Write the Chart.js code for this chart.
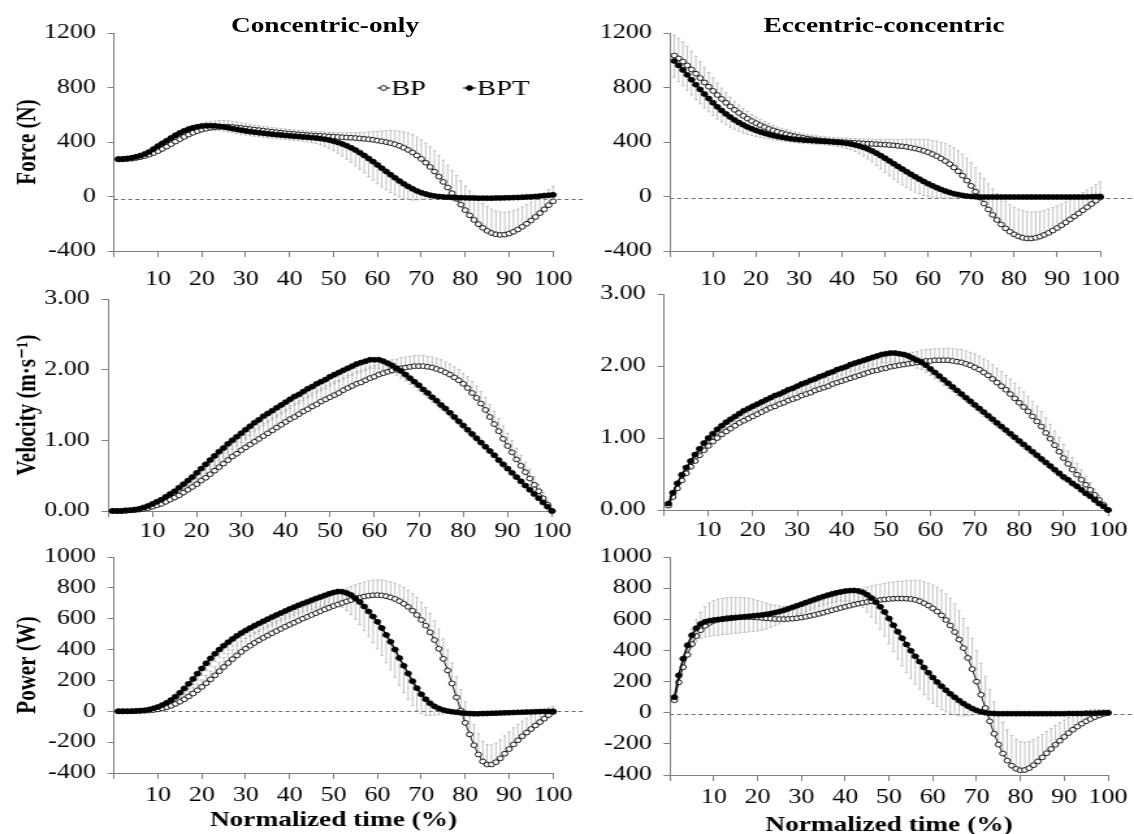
<!DOCTYPE html>
<html>
<head>
<meta charset="utf-8">
<title>Force, velocity and power over normalized time</title>
<script src="https://cdn.jsdelivr.net/npm/chart.js@4.4.1/dist/chart.umd.min.js"></script>
<style>
  html, body { margin: 0; padding: 0; background: #fff; overflow: hidden; }
  #figure { position: absolute; left: 0; top: 0; width: 872px; height: 834px;
            transform-origin: 0 0; }
  #figure canvas { position: absolute; left: 0; top: 0; }
  .ptitle { position: absolute; top: 15px; line-height: 21px; white-space: nowrap;
            font-family: "Liberation Serif", "Times New Roman", serif; font-weight: bold;
            font-size: 21px; color: #000; transform: translateX(-50%); }
</style>
</head>
<body>
<div id="figure">
  <div class="ptitle" id="titleCO">Concentric-only</div>
  <div class="ptitle" id="titleEC">Eccentric-concentric</div>
</div>
<script>
// ---- normalized time (%) ----
const timePct = [1,2,3,4,5,6,7,8,9,10,11,12,13,14,15,16,17,18,19,20,
  21,22,23,24,25,26,27,28,29,30,31,32,33,34,35,36,37,38,39,40,
  41,42,43,44,45,46,47,48,49,50,51,52,53,54,55,56,57,58,59,60,
  61,62,63,64,65,66,67,68,69,70,71,72,73,74,75,76,77,78,79,80,
  81,82,83,84,85,86,87,88,89,90,91,92,93,94,95,96,97,98,99,100];
const xTicks = [10, 20, 30, 40, 50, 60, 70, 80, 90, 100];
const seriesNames = ['BPT', 'BP'];

// ---- Force (N), concentric-only ----
const coForceBPT = [275,276,279,284,291,300,312,327,348,370,
  390,410,430,450,467,482,495,505,512,517,
  519,520,519,515,510,504,498,492,486,481,
  476,472,468,464,460,457,454,451,448,445,
  442,440,437,435,432,429,425,420,414,406,
  397,386,373,358,341,322,301,279,256,232,
  208,184,160,137,114,93,74,56,41,28,
  18,10,4,0,-3,-5,-7,-8,-9,-10,
  -11,-11,-12,-12,-12,-12,-11,-11,-10,-9,
  -8,-7,-5,-4,-2,0,3,6,9,12];
const coForceBP = [272,273,275,278,283,289,297,307,319,333,
  349,366,384,403,421,438,454,468,480,490,
  498,504,508,511,512,512,510,507,503,499,
  495,491,487,483,479,475,472,468,465,462,
  459,456,454,451,449,447,445,443,441,439,
  437,435,433,431,429,426,423,420,416,410,
  405,399,392,383,372,358,342,323,301,276,
  248,217,183,146,107,66,24,-18,-60,-100,
  -138,-172,-203,-230,-252,-268,-278,-282,-280,-272,
  -259,-242,-222,-200,-176,-150,-122,-94,-64,-35];
const coForceBPTsd = [20,20,22,24,26,28,30,32,34,36,
  38,40,40,40,40,40,40,38,36,35,
  34,33,32,32,31,31,30,30,30,30,
  30,30,30,30,30,30,30,30,30,30,
  30,31,32,34,37,41,46,52,60,70,
  80,90,100,108,115,122,128,133,136,138,
  138,136,132,126,118,108,96,82,66,50,
  36,26,18,12,10,10,10,10,10,10,
  10,10,10,10,10,10,10,10,10,10,
  10,10,10,10,10,10,10,10,10,10];
const coForceBPsd = [20,20,22,24,26,28,30,33,36,40,
  42,44,45,46,47,48,48,48,48,48,
  48,48,47,46,45,44,42,40,38,36,
  35,34,33,32,32,31,31,30,30,30,
  30,30,30,30,30,30,30,30,30,31,
  32,33,35,37,40,44,48,54,60,68,
  76,84,92,100,108,116,124,130,136,140,
  144,148,152,156,160,164,168,172,175,178,
  180,180,180,180,178,175,172,168,164,160,
  155,150,145,140,135,130,125,120,115,110];

// ---- Force (N), eccentric-concentric ----
const ecForceBPT = [995,962,928,893,857,821,786,752,719,688,
  658,631,606,583,562,543,526,511,497,485,
  474,464,455,447,440,434,429,424,420,417,
  414,412,410,408,406,404,402,400,397,394,
  390,385,378,370,360,348,334,318,300,281,
  261,241,221,201,182,163,145,127,110,94,
  79,65,52,40,30,21,14,8,3,0,
  -2,-3,-4,-4,-4,-4,-4,-4,-4,-4,
  -4,-4,-4,-4,-4,-4,-4,-4,-4,-4,
  -4,-4,-4,-4,-4,-4,-3,-2,-1,0];
const ecForceBP = [1035,1013,990,962,932,901,869,837,806,775,
  745,716,688,661,636,613,592,572,554,538,
  523,509,496,485,475,466,457,449,442,436,
  430,425,420,416,412,409,406,404,402,400,
  398,396,394,392,390,388,386,384,382,380,
  378,375,372,368,364,358,352,344,335,324,
  311,296,279,260,238,213,185,153,117,78,
  36,-8,-52,-95,-135,-172,-205,-234,-258,-278,
  -293,-303,-308,-308,-303,-294,-282,-267,-250,-231,
  -211,-190,-168,-146,-124,-101,-78,-55,-31,-8];
const ecForceBPTsd = [120,118,116,114,112,110,106,102,98,94,
  90,85,80,75,70,65,60,55,50,45,
  40,36,32,30,28,26,25,25,25,25,
  25,25,25,25,25,25,26,28,30,33,
  37,42,48,55,63,72,81,90,98,105,
  110,114,116,117,117,116,113,108,102,94,
  85,75,64,53,42,32,23,16,12,10,
  10,10,10,10,10,10,10,10,10,10,
  10,10,10,10,10,10,10,10,10,10,
  10,10,10,10,10,10,10,10,10,10];
const ecForceBPsd = [150,148,145,140,135,128,120,112,104,96,
  88,80,74,68,63,59,55,52,49,46,
  44,42,40,38,36,35,34,33,32,31,
  30,30,30,30,30,30,30,30,30,30,
  30,30,31,32,33,34,35,36,38,40,
  42,45,48,52,56,62,68,75,83,92,
  101,110,119,128,136,144,151,158,164,170,
  175,180,184,188,191,194,196,198,199,200,
  200,199,197,194,190,185,180,174,168,162,
  156,150,145,140,135,130,126,122,118,115];

// ---- Velocity (m/s), concentric-only ----
const coVelBPT = [0.00,0.00,0.00,0.01,0.01,0.02,0.03,0.05,0.07,0.10,
  0.13,0.16,0.20,0.24,0.28,0.33,0.38,0.43,0.48,0.54,
  0.60,0.66,0.72,0.78,0.84,0.89,0.95,1.00,1.05,1.10,
  1.15,1.20,1.25,1.29,1.34,1.38,1.42,1.46,1.50,1.54,
  1.58,1.62,1.65,1.69,1.73,1.76,1.80,1.83,1.86,1.90,
  1.93,1.96,1.99,2.02,2.05,2.08,2.10,2.12,2.14,2.14,
  2.14,2.12,2.09,2.06,2.02,1.98,1.93,1.88,1.83,1.78,
  1.72,1.67,1.61,1.56,1.50,1.45,1.39,1.33,1.27,1.21,
  1.15,1.09,1.03,0.97,0.91,0.85,0.79,0.72,0.66,0.60,
  0.54,0.48,0.42,0.36,0.30,0.24,0.18,0.12,0.06,0.00];
const coVelBP = [0.00,0.00,0.00,0.00,0.01,0.01,0.02,0.03,0.04,0.06,
  0.08,0.10,0.13,0.16,0.19,0.22,0.26,0.30,0.34,0.38,
  0.43,0.47,0.52,0.57,0.62,0.67,0.72,0.77,0.81,0.86,
  0.90,0.94,0.98,1.02,1.06,1.10,1.14,1.18,1.22,1.26,
  1.30,1.33,1.37,1.41,1.44,1.48,1.51,1.55,1.58,1.61,
  1.64,1.67,1.71,1.74,1.77,1.80,1.82,1.85,1.88,1.90,
  1.93,1.95,1.97,1.99,2.00,2.02,2.03,2.04,2.05,2.05,
  2.05,2.04,2.03,2.01,1.99,1.96,1.93,1.89,1.85,1.80,
  1.74,1.67,1.60,1.52,1.43,1.33,1.23,1.13,1.02,0.92,
  0.83,0.73,0.64,0.55,0.46,0.37,0.28,0.18,0.09,0.00];
const coVelBPTsd = [0.00,0.00,0.00,0.00,0.01,0.01,0.01,0.02,0.02,0.03,
  0.04,0.05,0.06,0.07,0.08,0.09,0.10,0.11,0.12,0.12,
  0.13,0.13,0.13,0.13,0.13,0.13,0.13,0.13,0.13,0.13,
  0.13,0.13,0.13,0.13,0.13,0.13,0.13,0.13,0.13,0.13,
  0.13,0.13,0.13,0.13,0.13,0.13,0.13,0.13,0.13,0.13,
  0.13,0.13,0.13,0.13,0.13,0.13,0.13,0.13,0.12,0.12,
  0.12,0.12,0.11,0.11,0.10,0.10,0.09,0.09,0.08,0.08,
  0.07,0.07,0.07,0.06,0.06,0.06,0.06,0.05,0.05,0.05,
  0.05,0.05,0.05,0.04,0.04,0.04,0.04,0.04,0.04,0.03,
  0.03,0.03,0.03,0.03,0.02,0.02,0.02,0.02,0.01,0.00];
const coVelBPsd = [0.01,0.01,0.01,0.01,0.01,0.02,0.02,0.03,0.04,0.05,
  0.06,0.07,0.08,0.09,0.10,0.11,0.12,0.13,0.14,0.15,
  0.15,0.16,0.16,0.17,0.17,0.17,0.18,0.18,0.18,0.18,
  0.18,0.18,0.18,0.18,0.18,0.18,0.18,0.18,0.18,0.18,
  0.19,0.19,0.19,0.19,0.19,0.19,0.19,0.19,0.19,0.19,
  0.19,0.18,0.18,0.18,0.17,0.17,0.16,0.16,0.16,0.16,
  0.15,0.15,0.15,0.15,0.15,0.15,0.15,0.15,0.15,0.15,
  0.15,0.15,0.15,0.15,0.15,0.15,0.15,0.15,0.15,0.15,
  0.16,0.16,0.17,0.17,0.18,0.18,0.18,0.18,0.18,0.18,
  0.17,0.16,0.15,0.14,0.13,0.12,0.10,0.08,0.06,0.04];

// ---- Velocity (m/s), eccentric-concentric ----
const ecVelBPT = [0.09,0.24,0.37,0.49,0.59,0.68,0.77,0.85,0.93,1.00,
  1.06,1.12,1.17,1.22,1.26,1.30,1.34,1.38,1.41,1.44,
  1.47,1.50,1.53,1.56,1.59,1.61,1.64,1.67,1.69,1.72,
  1.75,1.77,1.80,1.82,1.85,1.87,1.90,1.92,1.95,1.97,
  1.99,2.02,2.04,2.06,2.08,2.10,2.12,2.14,2.16,2.17,
  2.18,2.18,2.17,2.16,2.14,2.11,2.08,2.05,2.01,1.96,
  1.91,1.86,1.81,1.76,1.71,1.66,1.61,1.56,1.51,1.46,
  1.41,1.36,1.31,1.26,1.21,1.16,1.11,1.06,1.01,0.96,
  0.91,0.86,0.81,0.76,0.71,0.66,0.61,0.56,0.51,0.46,
  0.42,0.37,0.33,0.28,0.23,0.19,0.14,0.09,0.05,0.00];
const ecVelBP = [0.06,0.18,0.30,0.41,0.51,0.60,0.68,0.76,0.83,0.89,
  0.95,1.00,1.05,1.09,1.13,1.17,1.21,1.24,1.27,1.30,
  1.33,1.36,1.39,1.42,1.44,1.47,1.49,1.52,1.54,1.56,
  1.59,1.61,1.63,1.66,1.68,1.70,1.72,1.75,1.77,1.79,
  1.81,1.83,1.85,1.87,1.89,1.91,1.93,1.94,1.96,1.97,
  1.99,2.00,2.01,2.02,2.03,2.04,2.05,2.06,2.07,2.07,
  2.08,2.08,2.08,2.08,2.07,2.06,2.05,2.03,2.01,1.98,
  1.95,1.91,1.87,1.82,1.77,1.72,1.67,1.61,1.55,1.49,
  1.43,1.37,1.30,1.23,1.16,1.07,0.99,0.90,0.81,0.72,
  0.64,0.56,0.49,0.42,0.35,0.28,0.21,0.14,0.07,0.00];
const ecVelBPTsd = [0.02,0.03,0.04,0.05,0.05,0.06,0.06,0.07,0.07,0.08,
  0.08,0.08,0.08,0.09,0.09,0.09,0.09,0.09,0.10,0.10,
  0.10,0.10,0.10,0.10,0.10,0.10,0.10,0.10,0.10,0.10,
  0.10,0.10,0.10,0.10,0.10,0.10,0.10,0.10,0.10,0.10,
  0.10,0.10,0.10,0.10,0.10,0.11,0.11,0.11,0.11,0.12,
  0.12,0.12,0.12,0.12,0.12,0.11,0.11,0.10,0.10,0.09,
  0.09,0.08,0.08,0.07,0.07,0.07,0.06,0.06,0.06,0.06,
  0.06,0.06,0.06,0.06,0.06,0.06,0.06,0.06,0.06,0.06,
  0.06,0.06,0.06,0.05,0.05,0.05,0.05,0.05,0.05,0.05,
  0.04,0.04,0.04,0.04,0.03,0.03,0.03,0.02,0.02,0.01];
const ecVelBPsd = [0.02,0.03,0.04,0.05,0.06,0.06,0.07,0.07,0.08,0.08,
  0.09,0.09,0.10,0.10,0.10,0.11,0.11,0.11,0.12,0.12,
  0.12,0.12,0.13,0.13,0.13,0.13,0.14,0.14,0.14,0.14,
  0.15,0.15,0.15,0.15,0.15,0.15,0.15,0.15,0.15,0.15,
  0.15,0.15,0.15,0.15,0.15,0.15,0.15,0.15,0.15,0.15,
  0.15,0.15,0.15,0.15,0.15,0.15,0.15,0.16,0.16,0.16,
  0.16,0.16,0.16,0.17,0.17,0.17,0.18,0.18,0.18,0.19,
  0.19,0.19,0.20,0.20,0.20,0.20,0.20,0.21,0.21,0.21,
  0.21,0.21,0.21,0.21,0.21,0.21,0.20,0.20,0.20,0.19,
  0.18,0.17,0.16,0.14,0.12,0.10,0.08,0.06,0.04,0.02];

// ---- Power (W), concentric-only ----
const coPowBPT = [0,0,0,1,2,4,7,12,19,28,
  40,55,73,95,120,148,178,210,244,278,
  311,343,373,400,425,448,469,489,507,524,
  540,555,569,583,597,611,624,637,650,663,
  675,687,698,709,720,731,741,751,761,770,
  776,775,767,753,733,708,679,647,614,580,
  540,495,450,400,345,295,245,195,150,110,
  78,52,32,18,8,2,-3,-7,-10,-13,
  -15,-16,-16,-15,-14,-13,-12,-11,-10,-9,
  -8,-7,-6,-5,-4,-3,-2,-1,-1,0];
const coPowBP = [0,0,0,0,1,2,3,5,8,12,
  18,26,36,48,62,78,96,115,136,158,
  182,207,233,260,287,313,338,362,385,406,
  425,443,460,476,491,506,520,534,548,561,
  574,587,600,612,624,636,648,660,671,682,
  692,702,712,721,729,737,744,749,752,753,
  751,746,738,728,714,697,677,652,624,592,
  555,512,462,405,340,265,180,90,5,-75,
  -150,-220,-280,-325,-345,-345,-330,-305,-275,-245,
  -215,-188,-162,-138,-115,-92,-70,-48,-25,-5];
const coPowBPTsd = [1,1,1,1,2,2,3,4,6,8,
  11,14,18,22,26,30,34,38,42,46,
  48,50,51,52,52,52,52,52,52,52,
  52,52,52,52,52,52,52,52,52,52,
  52,53,54,56,58,61,64,68,73,80,
  90,102,114,126,137,147,156,164,170,175,
  178,180,181,180,178,174,168,158,144,126,
  104,80,58,40,26,16,10,6,5,5,
  5,5,5,5,5,5,5,5,5,5,
  5,5,5,5,5,5,5,5,5,5];
const coPowBPsd = [1,1,1,1,2,2,3,4,6,8,
  11,14,18,22,26,30,34,38,42,46,
  50,53,56,58,60,62,63,64,65,66,
  66,67,67,68,68,69,69,70,70,70,
  71,71,72,72,73,74,75,76,78,80,
  82,84,86,88,90,92,94,96,97,98,
  99,100,101,102,104,106,108,110,113,116,
  119,122,125,128,130,132,134,135,136,136,
  136,135,134,132,130,127,124,120,116,112,
  108,103,98,92,86,78,70,60,48,36];

// ---- Power (W), eccentric-concentric ----
const ecPowBPT = [100,240,347,433,497,543,570,584,591,595,
  598,601,604,607,610,613,616,619,622,625,
  628,632,637,643,650,658,667,677,687,697,
  707,717,727,737,746,755,763,770,776,781,
  784,785,782,773,757,736,710,680,647,605,
  562,520,479,438,398,362,328,290,257,226,
  197,170,145,121,99,78,59,42,27,15,
  6,0,-4,-5,-6,-6,-6,-6,-6,-6,
  -6,-6,-6,-6,-6,-6,-6,-6,-6,-6,
  -5,-5,-5,-5,-4,-4,-3,-2,-1,0];
const ecPowBP = [80,195,292,372,440,492,530,558,577,590,
  598,603,607,610,612,613,614,614,613,611,
  609,606,604,602,601,601,602,604,607,611,
  616,622,628,635,642,650,658,665,673,680,
  687,694,700,706,711,716,720,724,727,730,
  732,733,733,732,730,725,716,703,688,670,
  650,625,595,560,518,470,415,352,280,200,
  115,30,-55,-135,-205,-262,-308,-340,-360,-370,
  -368,-356,-337,-313,-287,-260,-233,-206,-180,-155,
  -131,-109,-89,-71,-55,-41,-28,-17,-8,-2];
const ecPowBPTsd = [20,40,55,70,80,88,94,98,100,100,
  100,100,100,100,100,100,100,100,100,100,
  98,95,90,85,80,75,70,66,62,60,
  58,56,55,54,54,54,55,56,58,62,
  68,76,86,98,110,122,134,145,155,163,
  170,175,178,180,180,179,177,174,170,165,
  158,150,140,128,114,98,80,60,42,26,
  14,8,5,5,5,5,5,5,5,5,
  5,5,5,5,5,5,5,5,5,5,
  5,5,5,5,5,5,5,5,5,5];
const ecPowBPsd = [20,40,60,80,95,105,115,122,127,130,
  132,132,132,131,130,128,125,121,116,110,
  104,98,92,88,85,83,82,81,80,80,
  80,80,81,82,83,84,85,86,87,88,
  89,90,92,94,96,98,100,102,104,106,
  108,110,112,116,120,126,132,138,144,150,
  156,162,168,174,180,185,190,194,197,200,
  202,204,205,205,204,202,199,195,190,184,
  178,171,164,156,148,140,132,124,116,108,
  100,92,84,76,68,60,50,40,30,20];

// ---- figure geometry (page pixels) ----
const CW = 872, CH = 834;            // canvas size before the horizontal stretch
const S = 1134 / CW;                 // horizontal stretch applied to the whole figure
const toX = v => v / S;
const FONT = '"Liberation Serif", "Times New Roman", "DejaVu Serif", serif';

document.getElementById('figure').style.transform = 'scaleX(' + S + ')';
document.getElementById('titleCO').style.left = toX(325) + 'px';
document.getElementById('titleEC').style.left = toX(884) + 'px';

const panels = [
  { L:114, R:553, T:33,  B:251, xH:40, xPad:11, yMin:-400, yMax:1200, yStep:400, dec:0,
    yTitle:'Force (N)', zero:-20, zeroEnd:584, legend:true,
    bpt:coForceBPT, bp:coForceBP, bptSd:coForceBPTsd, bpSd:coForceBPsd },
  { L:670, R:1108, T:33, B:251, xH:40, xPad:11, yMin:-400, yMax:1200, yStep:400, dec:0,
    zero:-8, zeroEnd:1134,
    bpt:ecForceBPT, bp:ecForceBP, bptSd:ecForceBPTsd, bpSd:ecForceBPsd },
  { L:108, R:552, T:299, B:511, xH:40, xPad:3, yMin:0, yMax:3, yStep:1, dec:2,
    yTitle:'Velocity (m\u00B7s\u207B\u00B9)', zero:null,
    bpt:coVelBPT, bp:coVelBP, bptSd:coVelBPTsd, bpSd:coVelBPsd },
  { L:664, R:1108, T:294, B:510, xH:40, xPad:3, yMin:0, yMax:3, yStep:1, dec:2,
    zero:null,
    bpt:ecVelBPT, bp:ecVelBP, bptSd:ecVelBPTsd, bpSd:ecVelBPsd },
  { L:114, R:553, T:557, B:773, xH:60, xPad:5, yMin:-400, yMax:1000, yStep:200, dec:0,
    yTitle:'Power (W)', xTitle:'Normalized time (%)', zero:0, zeroEnd:584,
    bpt:coPowBPT, bp:coPowBP, bptSd:coPowBPTsd, bpSd:coPowBPsd },
  { L:670, R:1108, T:557, B:775, xH:63, xPad:5, yMin:-400, yMax:1000, yStep:200, dec:0,
    xTitle:'Normalized time (%)', zero:-10, zeroEnd:1134,
    bpt:ecPowBPT, bp:ecPowBP, bptSd:ecPowBPTsd, bpSd:ecPowBPsd }
];

// dashed reference line at zero force / power
const zeroLine = {
  id: 'zeroLine',
  beforeDatasetsDraw(chart, args, opts) {
    const { ctx, chartArea, scales: { y } } = chart;
    const yy = Math.round(y.getPixelForValue(opts.value)) + 0.5;
    ctx.save();
    ctx.strokeStyle = '#6a6a6a';
    ctx.lineWidth = 1;
    ctx.setLineDash([3, 2.5]);
    ctx.beginPath();
    ctx.moveTo(chartArea.left, yy);
    ctx.lineTo(opts.end, yy);
    ctx.stroke();
    ctx.restore();
  }
};

// one-sided SD bars: up for BP, down for BPT
const errorBars = {
  id: 'errorBars',
  beforeDatasetsDraw(chart) {
    const { ctx, scales: { x, y } } = chart;
    ctx.save();
    ctx.strokeStyle = '#a9a9a9';
    ctx.lineWidth = 0.7;
    chart.data.datasets.forEach(ds => {
      if (!ds.errors) return;
      ds.data.forEach((p, i) => {
        const e = ds.errors[i];
        if (!e) return;
        const px = x.getPixelForValue(p.x);
        const y0 = y.getPixelForValue(p.y);
        const y1 = y.getPixelForValue(p.y + ds.errorDir * e);
        ctx.beginPath();
        ctx.moveTo(px, y0);
        ctx.lineTo(px, y1);
        ctx.moveTo(px - 1.3, y1);
        ctx.lineTo(px + 1.3, y1);
        ctx.stroke();
      });
    });
    ctx.restore();
  }
};

// legend entries: short line, marker, series name
const legendMarks = {
  id: 'legendMarks',
  afterDraw(chart, args, opts) {
    const ctx = chart.ctx;
    ctx.save();
    opts.items.forEach(it => {
      const ds = chart.data.datasets[it.dataset];
      ctx.strokeStyle = '#000';
      ctx.lineWidth = 1;
      ctx.beginPath();
      ctx.moveTo(it.x0, it.y);
      ctx.lineTo(it.x1, it.y);
      ctx.stroke();
      ctx.beginPath();
      ctx.arc((it.x0 + it.x1) / 2, it.y, 2.4, 0, Math.PI * 2);
      ctx.fillStyle = ds.pointBackgroundColor;
      ctx.fill();
      ctx.lineWidth = 0.9;
      ctx.stroke();
      ctx.fillStyle = '#000';
      ctx.font = '22px ' + FONT;
      ctx.textBaseline = 'alphabetic';
      ctx.textAlign = 'left';
      ctx.fillText(ds.label, it.tx, it.baseline);
    });
    ctx.restore();
  }
};

const points = values => timePct.map((t, i) => ({ x: t, y: values[i] }));

function makeChart(p) {
  const canvas = document.createElement('canvas');
  canvas.width = CW;
  canvas.height = CH;
  document.getElementById('figure').appendChild(canvas);

  const L = toX(p.L), R = toX(p.R);
  const yW = p.yTitle ? L - 8.5 : 60;
  const tickFont = { family: FONT, size: 20 };
  const titleFont = { family: FONT, size: 21, weight: 'bold' };

  new Chart(canvas, {
    type: 'line',
    data: {
      datasets: [
        { label: seriesNames[0], data: points(p.bpt), errors: p.bptSd, errorDir: -1,
          borderColor: '#000', borderWidth: 1.5, tension: 0, clip: false,
          pointRadius: 2.5, pointBackgroundColor: '#000', pointBorderColor: '#000',
          pointBorderWidth: 0.8 },
        { label: seriesNames[1], data: points(p.bp), errors: p.bpSd, errorDir: 1,
          borderColor: '#000', borderWidth: 0.9, tension: 0, clip: false,
          pointRadius: 2.4, pointBackgroundColor: '#fff', pointBorderColor: '#000',
          pointBorderWidth: 0.9 }
      ]
    },
    options: {
      responsive: false,
      animation: false,
      events: [],
      layout: { padding: { left: L - yW, right: CW - R, top: p.T, bottom: CH - p.B - p.xH } },
      scales: {
        x: {
          type: 'linear', min: 0, max: 100,
          afterFit: s => { s.height = p.xH; },
          afterBuildTicks: s => { s.ticks = [{ value: 0 }].concat(xTicks.map(v => ({ value: v }))); },
          ticks: { padding: p.xPad, color: '#000', font: tickFont, maxRotation: 0, autoSkip: false,
                   callback: v => (v === 0 ? '' : String(v)) },
          grid: { drawOnChartArea: false, drawTicks: true, tickLength: 6, color: '#808080' },
          border: { display: true, color: '#808080', width: 1 },
          title: p.xTitle
            ? { display: true, text: p.xTitle, color: '#000', font: titleFont, padding: { top: 0, bottom: 0 } }
            : { display: false }
        },
        y: {
          type: 'linear', min: p.yMin, max: p.yMax,
          afterFit: s => { s.width = yW; },
          ticks: { stepSize: p.yStep, padding: 9, color: '#000', font: tickFont,
                   callback: v => Number(v).toFixed(p.dec) },
          grid: { drawOnChartArea: false, drawTicks: true, tickLength: 5, color: '#808080' },
          border: { display: true, color: '#808080', width: 1 },
          title: p.yTitle
            ? { display: true, text: p.yTitle, color: '#000', font: titleFont, padding: { top: 0, bottom: 0 } }
            : { display: false }
        }
      },
      plugins: {
        legend: { display: false },
        tooltip: { enabled: false },
        zeroLine: p.zero === null ? false : { value: p.zero, end: toX(p.zeroEnd) },
        legendMarks: p.legend ? {
          items: [
            { dataset: 1, x0: toX(377), x1: toX(390), y: 88, tx: toX(391), baseline: 95 },
            { dataset: 0, x0: toX(463), x1: toX(476), y: 88, tx: toX(477), baseline: 95 }
          ]
        } : false
      }
    },
    plugins: [zeroLine, errorBars, legendMarks]
  });
}

panels.forEach(makeChart);
</script>
</body>
</html>
